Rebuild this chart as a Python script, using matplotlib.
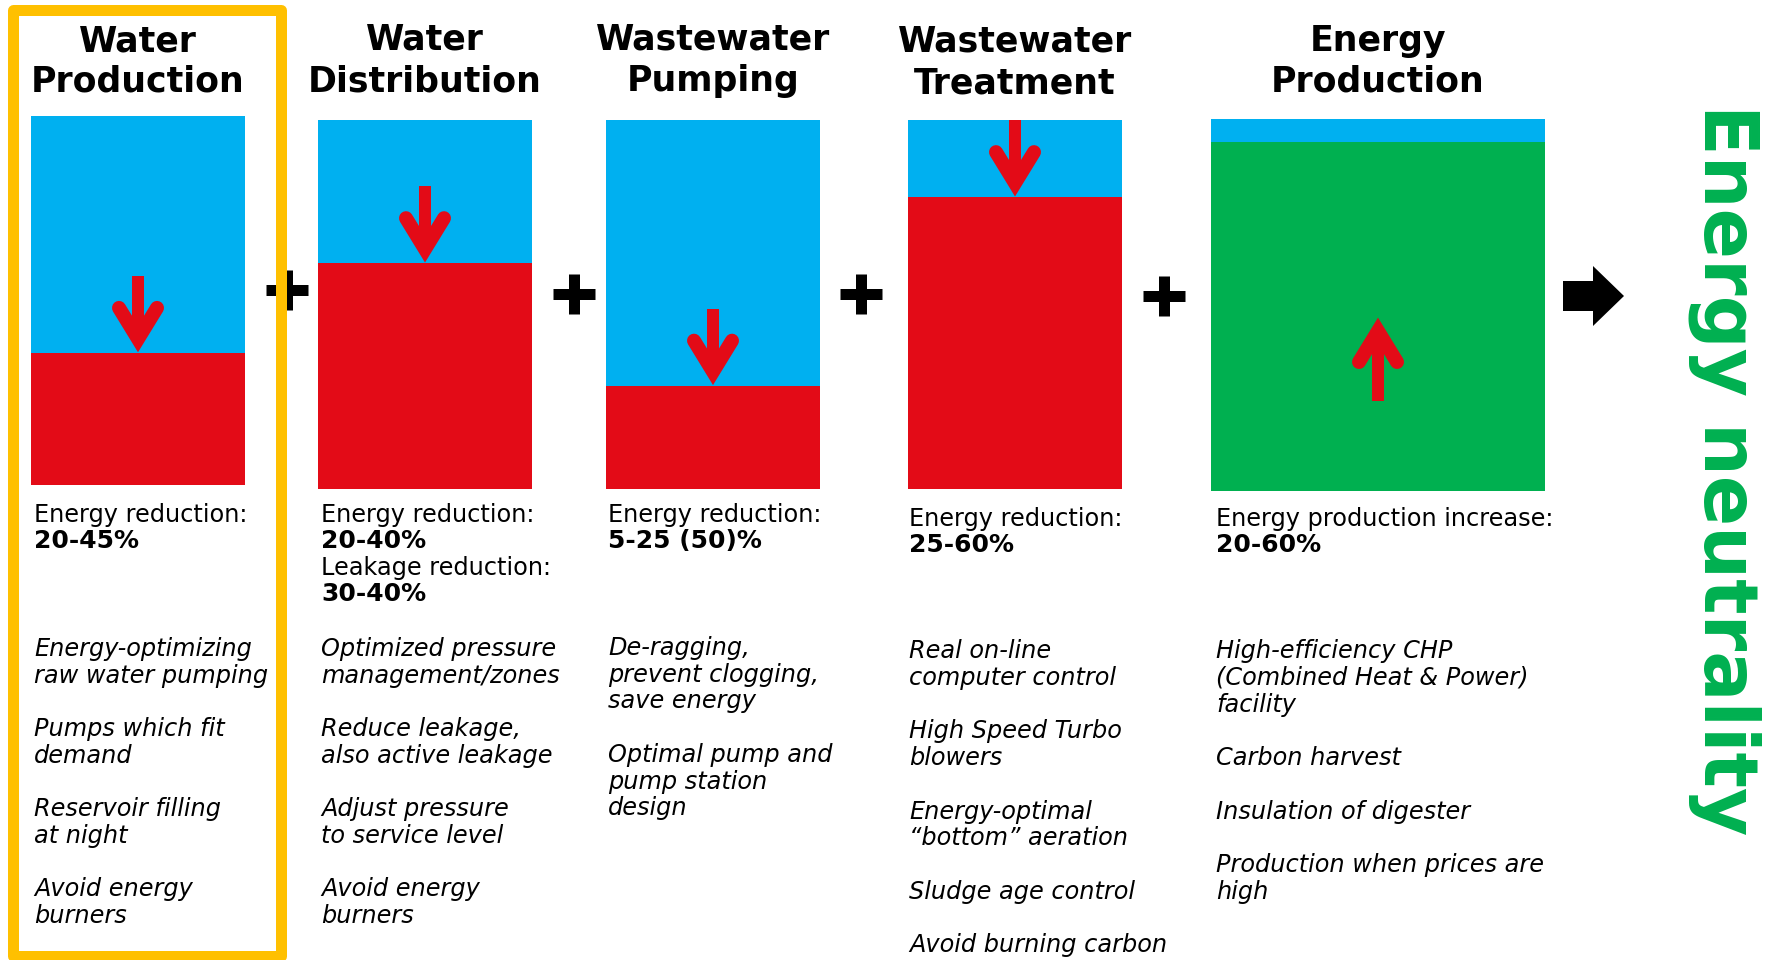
import matplotlib as mpl
mpl.use('Agg')
import matplotlib.pyplot as plt
from matplotlib.patches import Rectangle, Polygon
from matplotlib.lines import Line2D

# stages and how much of each column is still needed / produced (%)
stages = ['Water\nProduction', 'Water\nDistribution', 'Wastewater\nPumping',
          'Wastewater\nTreatment', 'Energy\nProduction']
fill_pct = [35.8, 61.2, 28.0, 79.1, 93.8]
fill_kind = ['use', 'use', 'use', 'use', 'produce']

# headline figures under each column
head_label = [['Energy reduction:'],
              ['Energy reduction:', 'Leakage reduction:'],
              ['Energy reduction:'],
              ['Energy reduction:'],
              ['Energy production increase:']]
head_value = [['20-45%'],
              ['20-40%', '30-40%'],
              ['5-25 (50)%'],
              ['25-60%'],
              ['20-60%']]

# measures listed under each column
measures = [
    ['Energy-optimizing\nraw water pumping', 'Pumps which fit\ndemand',
     'Reservoir filling\nat night', 'Avoid energy\nburners'],
    ['Optimized pressure\nmanagement/zones', 'Reduce leakage,\nalso active leakage',
     'Adjust pressure\nto service level', 'Avoid energy\nburners'],
    ['De-ragging,\nprevent clogging,\nsave energy',
     'Optimal pump and\npump station\ndesign'],
    ['Real on-line\ncomputer control', 'High Speed Turbo\nblowers',
     'Energy-optimal\n\u201cbottom\u201d aeration', 'Sludge age control',
     'Avoid burning carbon'],
    ['High-efficiency CHP\n(Combined Heat & Power)\nfacility', 'Carbon harvest',
     'Insulation of digester', 'Production when prices are\nhigh'],
]

BLUE = '#00B0F0'
RED = '#E30B17'
GREEN = '#00B050'
YELLOW = '#FFC000'

W, H = 1768, 960
PT = 72 / 100  # pixels -> points at dpi 100

# page layout in pixels
col_left = [31, 318, 606, 908, 1211]
col_width = [214, 214, 214, 214, 334]
col_top = [116, 120, 120, 120, 119]
col_bottom = [485, 489, 489, 489, 491]
title_y = [51, 50, 50, 52, 51]
text_x = [34, 321, 608, 909, 1216]
head_y = [521.7, 521.7, 521.7, 525.7, 525.7]
list_y = [656, 656, 655, 658.3, 658.3]
plus_xy = [(287, 290), (574, 294), (861, 294), (1164, 296)]
head_step = 26.4
line_step = 26.7

fig = plt.figure(figsize=(W / 100, H / 100), dpi=100)
ax = fig.add_axes([0, 0, 1, 1])
ax.set_xlim(0, W)
ax.set_ylim(H, 0)
ax.axis('off')


def red_arrow(x, tip, d, length=77):
    # d = 1 points down the page, d = -1 points up
    ax.add_line(Line2D([x, x], [tip - d * length, tip - d * 20], lw=12 * PT,
                       color=RED, solid_capstyle='butt', zorder=4))
    ax.add_line(Line2D([x - 19, x, x + 19], [tip - d * 45, tip - d * 14, tip - d * 45],
                       lw=14 * PT, color=RED, solid_capstyle='round',
                       solid_joinstyle='miter', zorder=4))


for i, name in enumerate(stages):
    cx = col_left[i] + col_width[i] / 2
    h = col_bottom[i] - col_top[i]

    # column title
    for k, line in enumerate(name.split('\n')):
        ax.text(cx, title_y[i] + 41 * k, line, ha='center', va='baseline',
                fontsize=25, fontweight='bold', color='black')

    # full column, then the filled part growing up from the bottom
    ax.bar(cx, -h, bottom=col_bottom[i], width=col_width[i], color=BLUE,
           linewidth=0, zorder=2)
    fill_h = fill_pct[i] / 100 * h
    ax.bar(cx, -fill_h, bottom=col_bottom[i], width=col_width[i],
           color=RED if fill_kind[i] == 'use' else GREEN, linewidth=0, zorder=3)

    level = col_bottom[i] - fill_h
    if fill_kind[i] == 'use':
        red_arrow(cx, level, 1, length=77)
    else:
        red_arrow(cx, (col_top[i] + col_bottom[i]) / 2 + 12, -1, length=84)

    # headline figures
    y = head_y[i]
    for lab, val in zip(head_label[i], head_value[i]):
        ax.text(text_x[i], y, lab, ha='left', va='baseline', fontsize=17.3)
        ax.text(text_x[i], y + head_step, val, ha='left', va='baseline',
                fontsize=18, fontweight='bold')
        y += 2 * head_step

    # measures, one blank line between items
    y = list_y[i]
    for item in measures[i]:
        for line in item.split('\n'):
            ax.text(text_x[i], y, line, ha='left', va='baseline', fontsize=17.3,
                    fontstyle='italic')
            y += line_step
        y += line_step

# plus signs between the columns
for px, py in plus_xy:
    ax.add_line(Line2D([px - 21, px + 21], [py, py], lw=11 * PT, color='black',
                       solid_capstyle='butt', zorder=5))
    ax.add_line(Line2D([px, px], [py - 20, py + 20], lw=11 * PT, color='black',
                       solid_capstyle='butt', zorder=5))

# highlight frame round the first column
ax.add_patch(Rectangle((12.5, 10), 268, 946, fill=False, lw=11 * PT,
                       ec=YELLOW, joinstyle='round', zorder=6))

# block arrow to the result
ax.add_patch(Polygon([(1563, 281), (1593, 281), (1593, 266), (1624, 296),
                      (1593, 326), (1593, 311), (1563, 311)],
                     closed=True, fc='black', ec='none', zorder=5))

ax.text(1704, 104, 'Energy neutrality', rotation=-90, rotation_mode='anchor',
        ha='left', va='baseline', fontsize=53.5, fontweight='bold', color=GREEN)

fig.savefig('out.png', dpi=100)
